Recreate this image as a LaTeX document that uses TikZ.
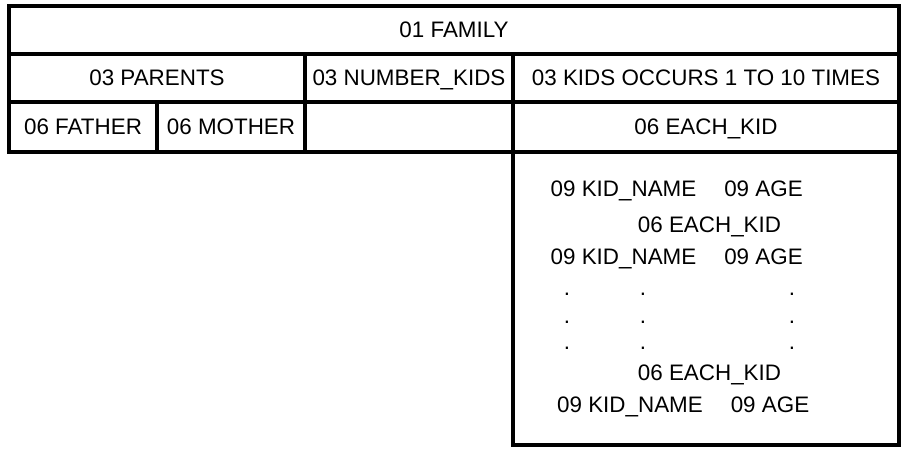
\documentclass[tikz,border=0pt]{standalone}
\usepackage{fontspec}
\setmainfont{Liberation Sans}
\usepackage{tikz}

\begin{document}
\begin{tikzpicture}[
        x=1pt, y=-1pt,
        font=\fontsize{11.2}{13}\selectfont,
        cell/.style 2 args={draw, line width=1.6pt, outer sep=0pt, inner sep=0pt,
            minimum width=#1pt, minimum height=#2pt, text height=8pt, text depth=0pt},
        item/.style={inner sep=0pt, text height=8pt, text depth=0pt},
        dot/.style={inner sep=0pt},
        ]
    \useasboundingbox (0, 0) rectangle (455, 229);

    % header rows
    \node (family) at (227, 15) [cell={445}{24}] {01 FAMILY};

    \node (parents) at (78.5, 39) [cell={148}{24}] {03 PARENTS};
    \node (numkids) at (204.5, 39) [cell={104}{24}] {03 NUMBER\_KIDS};
    \node (kids) at (353, 39) [cell={193}{24}] {03 KIDS OCCURS 1 TO 10 TIMES};

    \node (father) at (41.5, 63.5) [cell={74}{25}] {06 FATHER};
    \node (mother) at (115.5, 63.5) [cell={74}{25}] {06 MOTHER};
    \node (blank) at (204.5, 63.5) [cell={104}{25}] {};
    \node (eachkid) at (353, 63.5) [cell={193}{25}] {06 EACH\_KID};

    % occurrences of the kids
    \node (body) at (353, 149.25) [cell={193}{146.5}] {};

    \node (name1) at (311.75, 94.5) [item] {09 KID\_NAME};
    \node (age1) at (381.75, 94.5) [item] {09 AGE};
    \node (each1) at (354.75, 112.5) [item] {06 EACH\_KID};
    \node (name2) at (311.75, 128.5) [item] {09 KID\_NAME};
    \node (age2) at (381.75, 128.5) [item] {09 AGE};

    \foreach \y [count=\r] in {147, 161, 174} {
        \node (dot\r a) at (283.5, \y) [dot] {.};
        \node (dot\r b) at (321.5, \y) [dot] {.};
        \node (dot\r c) at (396, \y) [dot] {.};
    }

    \node (each2) at (354.75, 186.5) [item] {06 EACH\_KID};
    \node (name3) at (315, 202.5) [item] {09 KID\_NAME};
    \node (age3) at (385, 202.5) [item] {09 AGE};
\end{tikzpicture}
\end{document}
